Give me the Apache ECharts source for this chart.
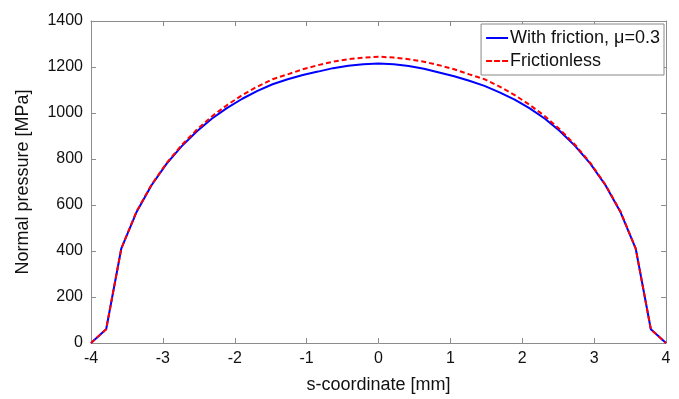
<!DOCTYPE html>
<html>
<head>
<meta charset="utf-8">
<script src="https://cdn.jsdelivr.net/npm/echarts@6/dist/echarts.min.js"></script>
<style>html,body{margin:0;padding:0;background:#fff}#c{width:679px;height:399px}</style>
</head>
<body>
<div id="c"></div>
<script>
const sCoord = [-4.000,-3.789,-3.579,-3.368,-3.158,-2.947,-2.737,-2.526,-2.316,-2.105,-1.895,-1.684,-1.474,-1.263,-1.053,-0.842,-0.632,-0.421,-0.211,0.000,
  0.211,0.421,0.632,0.842,1.053,1.263,1.474,1.684,1.895,2.105,2.316,2.526,2.737,2.947,3.158,3.368,3.579,3.789,4.000];
const withFriction = [0,60,410,568,686,780,856,921,976,1022,1062,1096,1125,1147,1165,1180,1195,1205,1212,1215,
  1212,1204,1192,1176,1160,1140,1118,1090,1058,1020,975,921,856,780,686,568,410,60,0];
const frictionless = [0,60,410,571,688,783,861,928,986,1035,1078,1115,1147,1168,1190,1208,1223,1234,1241,1245,
  1241,1234,1223,1208,1190,1168,1147,1115,1078,1035,986,928,861,783,688,571,410,60,0];
const xTicks = [-4,-3,-2,-1,0,1,2,3,4];
const yTicks = [0,200,400,600,800,1000,1200,1400];
const names = ['With friction, \u03bc=0.3','Frictionless'];

const font = 'Liberation Sans, Arial, sans-serif';
const axisCol = '#8c8c8c';
const chart = echarts.init(document.getElementById('c'));
const pairs = arr => sCoord.map((s,i)=>[s,arr[i]]);
const baseX = {
  type:'value', min:xTicks[0], max:xTicks[xTicks.length-1], interval:1,
  axisLine:{onZero:false,lineStyle:{color:axisCol,width:1}},
  axisTick:{inside:true,length:5,lineStyle:{color:axisCol}},
  splitLine:{show:false}
};
const baseY = {
  type:'value', min:yTicks[0], max:yTicks[yTicks.length-1], interval:200,
  axisLine:{show:true,onZero:false,lineStyle:{color:axisCol,width:1}},
  axisTick:{show:true,inside:true,length:5,lineStyle:{color:axisCol}},
  splitLine:{show:false}
};
chart.setOption({
  animation:false,
  backgroundColor:'#fff',
  grid:{left:91,right:13,top:21,bottom:52},
  xAxis:[
    Object.assign({},baseX,{position:'bottom',
      name:'s-coordinate [mm]',nameLocation:'middle',nameGap:33,
      nameTextStyle:{fontFamily:font,fontSize:18,color:'#111'},
      axisLabel:{fontFamily:font,fontSize:16,color:'#111',margin:8,formatter:v=>String(v)}}),
    Object.assign({},baseX,{position:'top',axisLabel:{show:false}})
  ],
  yAxis:[
    Object.assign({},baseY,{position:'left',
      name:'Normal pressure [MPa]',nameLocation:'middle',nameGap:59,
      nameTextStyle:{fontFamily:font,fontSize:18,color:'#111'},
      axisLabel:{fontFamily:font,fontSize:16,color:'#111',margin:8,formatter:v=>String(v)}}),
    Object.assign({},baseY,{position:'right',axisLabel:{show:false}})
  ],
  legend:{
    orient:'vertical', right:15, top:24,
    backgroundColor:'#fff', borderColor:'#888', borderWidth:1, borderRadius:0,
    padding:[5,4,5,5], itemGap:5, itemWidth:22, itemHeight:2,
    textStyle:{fontFamily:font,fontSize:18,color:'#111',padding:[0,0,0,-3]},
    data:[
      {name:names[0],icon:'rect'},
      {name:names[1],icon:'path://M0,0h6v2h-6z M8,0h6v2h-6z M16,0h6v2h-6z'}
    ]
  },
  series:[
    {name:names[0],type:'line',data:pairs(withFriction),symbol:'none',
     lineStyle:{color:'#0000ff',width:2},itemStyle:{color:'#0000ff'},z:3},
    {name:names[1],type:'line',data:pairs(frictionless),symbol:'none',
     lineStyle:{color:'#ff0000',width:2,type:[5,3]},itemStyle:{color:'#ff0000'},z:4}
  ]
});
</script>
</body>
</html>
